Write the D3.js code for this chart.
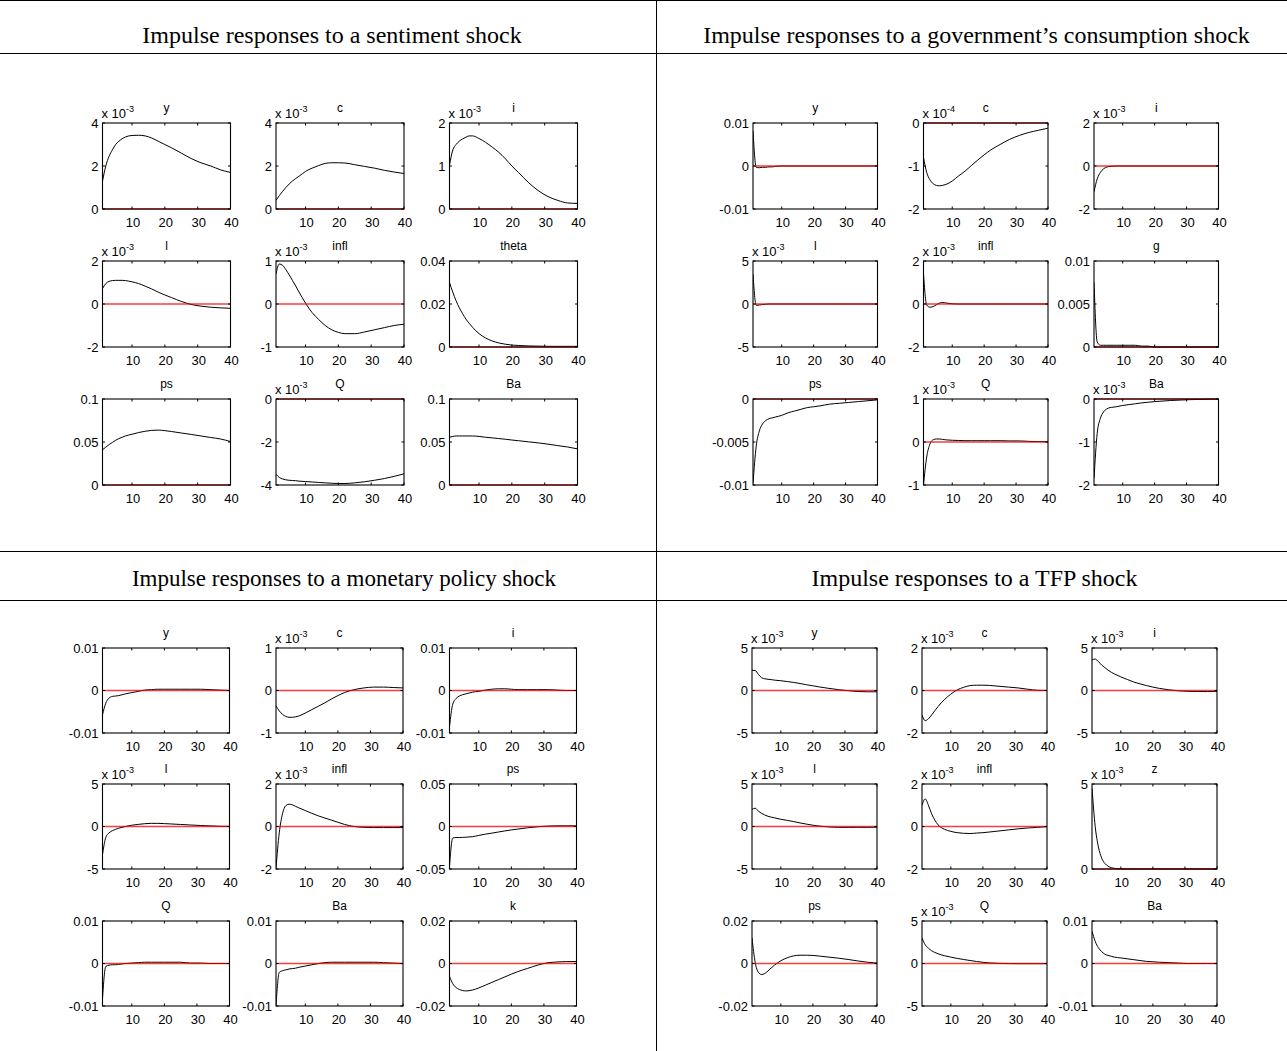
<!DOCTYPE html>
<html>
<head>
<meta charset="utf-8">
<script src="https://cdn.jsdelivr.net/npm/d3@7"></script>
<style>
body { margin: 0; background: #fff; }
svg { display: block; }
</style>
</head>
<body>
<div id="chart"></div>
<script>
var horizon = [1, 2, 3, 4, 5, 6, 7, 8, 10, 12, 14, 16, 18, 20, 22, 25, 28, 31, 34, 37, 40];
var xTicks = [10, 20, 30, 40];

var panelTitles = [
	"Impulse responses to a sentiment shock",
	"Impulse responses to a government\u2019s consumption shock",
	"Impulse responses to a monetary policy shock",
	"Impulse responses to a TFP shock"
];

// --- sentiment shock ---
var sentimentVars = ["y", "c", "i", "l", "infl", "theta", "ps", "Q", "Ba"];
var sentimentExp = [-3, -3, -3, -3, -3, 0, 0, -3, 0];
var sentimentYTicks = [[0, 2, 4], [0, 2, 4], [0, 1, 2], [-2, 0, 2], [-1, 0, 1], [0, 0.02, 0.04], [0, 0.05, 0.1], [-4, -2, 0], [0, 0.05, 0.1]];
var sentimentIRF = [
	[1.3, 2.0, 2.45, 2.75, 3.0, 3.15, 3.27, 3.35, 3.42, 3.43, 3.4, 3.3, 3.15, 3.0, 2.85, 2.6, 2.35, 2.15, 2.0, 1.82, 1.7],
	[0.4, 0.62, 0.82, 1.0, 1.16, 1.3, 1.42, 1.52, 1.75, 1.9, 2.02, 2.12, 2.15, 2.15, 2.14, 2.06, 1.98, 1.9, 1.8, 1.72, 1.65],
	[1.02, 1.37, 1.5, 1.58, 1.63, 1.67, 1.7, 1.7, 1.64, 1.55, 1.44, 1.32, 1.17, 1.0, 0.85, 0.62, 0.43, 0.29, 0.2, 0.14, 0.13],
	[0.72, 0.95, 1.05, 1.09, 1.1, 1.1, 1.1, 1.09, 1.03, 0.95, 0.83, 0.7, 0.55, 0.42, 0.3, 0.12, -0.02, -0.1, -0.15, -0.18, -0.2],
	[0.7, 0.93, 0.9, 0.8, 0.68, 0.55, 0.42, 0.28, 0.02, -0.2, -0.36, -0.5, -0.6, -0.66, -0.69, -0.69, -0.65, -0.6, -0.55, -0.5, -0.47],
	[0.030, 0.0255, 0.0215, 0.0182, 0.0155, 0.013, 0.011, 0.0092, 0.0062, 0.0042, 0.0028, 0.0019, 0.0013, 0.0009, 0.0007, 0.0005, 0.0004, 0.0003, 0.0003, 0.0003, 0.0003],
	[0.041, 0.044, 0.047, 0.0495, 0.052, 0.054, 0.0555, 0.057, 0.059, 0.061, 0.0625, 0.0635, 0.0638, 0.0632, 0.0622, 0.0605, 0.0588, 0.057, 0.0552, 0.0535, 0.0505],
	[-3.5, -3.65, -3.72, -3.76, -3.78, -3.79, -3.8, -3.82, -3.84, -3.86, -3.88, -3.9, -3.92, -3.93, -3.93, -3.9, -3.85, -3.78, -3.7, -3.6, -3.48],
	[0.0555, 0.0565, 0.057, 0.057, 0.057, 0.057, 0.057, 0.057, 0.0565, 0.0555, 0.0548, 0.054, 0.0532, 0.0523, 0.0515, 0.0502, 0.049, 0.0475, 0.0458, 0.0442, 0.042]
];

// --- government consumption shock ---
var govVars = ["y", "c", "i", "l", "infl", "g", "ps", "Q", "Ba"];
var govExp = [0, -4, -3, -3, -3, 0, 0, -3, -3];
var govYTicks = [[-0.01, 0, 0.01], [-2, -1, 0], [-2, 0, 2], [-5, 0, 5], [-2, 0, 2], [0, 0.005, 0.01], [-0.01, -0.005, 0], [-1, 0, 1], [-2, -1, 0]];
var govIRF = [
	[0.0082, -0.0003, -0.0004, -0.0003, -0.0003, -0.0002, -0.0002, -0.0001, 0, 0, 0, 0, 0, 0, 0, 0, 0, 0, 0, 0, 0],
	[-0.8, -1.15, -1.32, -1.41, -1.45, -1.46, -1.45, -1.43, -1.35, -1.23, -1.12, -0.99, -0.86, -0.74, -0.63, -0.5, -0.38, -0.29, -0.22, -0.17, -0.12],
	[-1.2, -0.6, -0.3, -0.13, -0.05, -0.02, -0.01, 0, 0, 0, 0, 0, 0, 0, 0, 0, 0, 0, 0, 0, 0],
	[3.5, -0.15, -0.12, -0.06, -0.03, 0, 0, 0, 0, 0, 0, 0, 0, 0, 0, 0, 0, 0, 0, 0, 0],
	[1.4, -0.05, -0.15, -0.12, -0.04, 0.04, 0.07, 0.05, 0.01, 0, 0, 0, 0, 0, 0, 0, 0, 0, 0, 0, 0],
	[0.0075, 0.0006, 0.0002, 0.0002, 0.0002, 0.0002, 0.0002, 0.0002, 0.0002, 0.0002, 0.0002, 0.0001, 0.0001, 0, 0, 0, 0, 0, 0, 0, 0],
	[-0.0098, -0.0055, -0.0037, -0.0029, -0.0025, -0.0023, -0.0022, -0.0021, -0.0019, -0.0016, -0.0014, -0.0012, -0.001, -0.0009, -0.0008, -0.0006, -0.0005, -0.0004, -0.0003, -0.0002, -0.0001],
	[-1.0, -0.35, -0.05, 0.05, 0.07, 0.07, 0.06, 0.05, 0.04, 0.035, 0.03, 0.03, 0.03, 0.03, 0.03, 0.03, 0.025, 0.025, 0.015, 0.01, 0.005],
	[-1.85, -0.8, -0.45, -0.3, -0.23, -0.2, -0.19, -0.18, -0.15, -0.13, -0.11, -0.09, -0.075, -0.06, -0.05, -0.035, -0.025, -0.015, -0.01, -0.005, 0]
];

// --- monetary policy shock ---
var monVars = ["y", "c", "i", "l", "infl", "ps", "Q", "Ba", "k"];
var monExp = [0, -3, 0, -3, -3, 0, 0, 0, 0];
var monYTicks = [[-0.01, 0, 0.01], [-1, 0, 1], [-0.01, 0, 0.01], [-5, 0, 5], [-2, 0, 2], [-0.05, 0, 0.05], [-0.01, 0, 0.01], [-0.01, 0, 0.01], [-0.02, 0, 0.02]];
var monIRF = [
	[-0.0057, -0.003, -0.0018, -0.0014, -0.0013, -0.0012, -0.001, -0.0008, -0.0005, -0.0002, 0.0001, 0.0002, 0.0003, 0.0003, 0.0003, 0.0003, 0.0003, 0.0003, 0.0002, 0.0001, 0],
	[-0.36, -0.48, -0.56, -0.61, -0.63, -0.63, -0.62, -0.6, -0.53, -0.45, -0.37, -0.29, -0.2, -0.12, -0.05, 0.02, 0.06, 0.08, 0.08, 0.07, 0.06],
	[-0.0085, -0.0032, -0.0019, -0.0013, -0.001, -0.0008, -0.0006, -0.0004, -0.0002, 0.0001, 0.0003, 0.0004, 0.0004, 0.0003, 0.0002, 0.0002, 0.0002, 0.0002, 0.0001, 0, 0],
	[-3.3, -1.3, -0.75, -0.5, -0.33, -0.2, -0.1, 0, 0.15, 0.25, 0.33, 0.37, 0.37, 0.34, 0.3, 0.24, 0.18, 0.12, 0.07, 0.03, 0.01],
	[-1.95, -0.3, 0.6, 0.98, 1.05, 1.02, 0.95, 0.88, 0.75, 0.62, 0.5, 0.4, 0.3, 0.2, 0.1, 0, -0.04, -0.05, -0.05, -0.05, -0.05],
	[-0.047, -0.0135, -0.013, -0.013, -0.0128, -0.0126, -0.0123, -0.012, -0.0105, -0.009, -0.0078, -0.0065, -0.0052, -0.004, -0.003, -0.0015, -0.0003, 0.0005, 0.0008, 0.0008, 0.0008],
	[-0.0082, -0.0007, -0.0004, -0.0003, -0.0003, -0.0002, -0.0001, 0, 0.0001, 0.0002, 0.0003, 0.0003, 0.0003, 0.0003, 0.0003, 0.0003, 0.0001, 0.0001, 0, 0, 0],
	[-0.0099, -0.0021, -0.0017, -0.0015, -0.0013, -0.0012, -0.0011, -0.0009, -0.0006, -0.0003, 0, 0.0002, 0.0003, 0.0003, 0.0003, 0.0003, 0.0003, 0.0003, 0.0002, 0.0001, 0],
	[-0.006, -0.0095, -0.0113, -0.0122, -0.0127, -0.0129, -0.0128, -0.0125, -0.0115, -0.0102, -0.0089, -0.0076, -0.0063, -0.005, -0.0038, -0.0023, -0.0008, 0.0003, 0.0007, 0.0009, 0.0009]
];

// --- TFP shock ---
var tfpVars = ["y", "c", "i", "l", "infl", "z", "ps", "Q", "Ba"];
var tfpExp = [-3, -3, -3, -3, -3, -3, 0, -3, 0];
var tfpYTicks = [[-5, 0, 5], [-2, 0, 2], [-5, 0, 5], [-5, 0, 5], [-2, 0, 2], [0, 5], [-0.02, 0, 0.02], [-5, 0, 5], [-0.01, 0, 0.01]];
var tfpIRF = [
	[2.38, 2.35, 1.9, 1.5, 1.38, 1.32, 1.28, 1.22, 1.15, 1.05, 0.95, 0.82, 0.68, 0.55, 0.42, 0.25, 0.1, -0.02, -0.12, -0.15, -0.15],
	[-1.15, -1.42, -1.33, -1.15, -0.95, -0.76, -0.58, -0.43, -0.17, 0.03, 0.15, 0.23, 0.25, 0.25, 0.24, 0.2, 0.16, 0.12, 0.06, 0.01, 0],
	[3.6, 3.7, 3.4, 3.0, 2.7, 2.4, 2.15, 1.95, 1.6, 1.3, 1.0, 0.78, 0.58, 0.4, 0.25, 0.08, -0.04, -0.1, -0.12, -0.12, -0.1],
	[2.0, 2.15, 1.8, 1.55, 1.35, 1.2, 1.1, 1.02, 0.85, 0.72, 0.58, 0.42, 0.28, 0.15, 0.05, -0.05, -0.1, -0.1, -0.1, -0.1, -0.08],
	[1.0, 1.3, 1.0, 0.6, 0.3, 0.08, -0.05, -0.13, -0.23, -0.29, -0.32, -0.33, -0.31, -0.29, -0.26, -0.21, -0.16, -0.11, -0.07, -0.04, -0.01],
	[4.75, 2.5, 1.3, 0.65, 0.33, 0.17, 0.08, 0.04, 0.01, 0, 0, 0, 0, 0, 0, 0, 0, 0, 0, 0, 0],
	[0.012, 0.0005, -0.0042, -0.0052, -0.0047, -0.0035, -0.0021, -0.0008, 0.0013, 0.0027, 0.0036, 0.0039, 0.0039, 0.0038, 0.0035, 0.003, 0.0025, 0.0019, 0.0012, 0.0006, 0.0002],
	[3.0, 2.2, 1.8, 1.5, 1.3, 1.15, 1.02, 0.92, 0.75, 0.6, 0.47, 0.35, 0.24, 0.14, 0.07, 0.02, -0.01, -0.02, -0.02, -0.02, -0.02],
	[0.0076, 0.0052, 0.0037, 0.0028, 0.0022, 0.0019, 0.0017, 0.0015, 0.0013, 0.0011, 0.0009, 0.0007, 0.0005, 0.0004, 0.0003, 0.0002, 0.0001, 0, 0, 0, 0]
];

var W = 1287, H = 1051;

// where each panel and its 3x3 grid of small axes sit
var layouts = [
	{ cx: 332, ty: 43, fs: 24, lefts: [102.5, 276, 449.5], w: 128, tops: [123, 261, 399], h: 86 },
	{ cx: 976.5, ty: 43, fs: 24, lefts: [753, 923.5, 1094], w: 124.5, tops: [123, 261, 399], h: 86 },
	{ cx: 344, ty: 586, fs: 23, lefts: [102.5, 276, 449.5], w: 127, tops: [648, 784, 921], h: 85 },
	{ cx: 974.5, ty: 586, fs: 24, lefts: [752, 922, 1092], w: 125, tops: [648, 784, 921], h: 85 }
];

var panels = [
	{ vars: sentimentVars, exp: sentimentExp, ticks: sentimentYTicks, irf: sentimentIRF },
	{ vars: govVars, exp: govExp, ticks: govYTicks, irf: govIRF },
	{ vars: monVars, exp: monExp, ticks: monYTicks, irf: monIRF },
	{ vars: tfpVars, exp: tfpExp, ticks: tfpYTicks, irf: tfpIRF }
];

var svg = d3.select('#chart').append('svg')
	.attr('width', W)
	.attr('height', H)
	.style('font-family', 'Arial, "Liberation Sans", sans-serif');

svg.append('rect').attr('width', W).attr('height', H).attr('fill', '#fff');

// table frame
var frame = svg.append('g').attr('stroke', '#000').attr('stroke-width', 1);
[0.5, 53.5, 551.5, 600.5].forEach(function (y) {
	frame.append('line').attr('x1', 0).attr('x2', W).attr('y1', y).attr('y2', y);
});
frame.append('line').attr('x1', 656.5).attr('x2', 656.5).attr('y1', 0).attr('y2', H);

var clipId = 0;

var drawAxes = function (g, x0, y0, w, h, name, expo, yTicks, values) {
	var x = d3.scaleLinear().domain([1, 40]).range([x0, x0 + w]);
	var y = d3.scaleLinear().domain([yTicks[0], yTicks[yTicks.length - 1]]).range([y0 + h, y0]);

	var id = 'clip' + (clipId++);
	g.append('clipPath').attr('id', id)
		.append('rect').attr('x', x0).attr('y', y0 - 1).attr('width', w).attr('height', h + 2);

	var pts = horizon.map(function (t, k) { return [t, values[k]]; });
	var line = d3.line()
		.x(function (d) { return x(d[0]); })
		.y(function (d) { return y(d[1]); })
		.curve(d3.curveMonotoneX);

	g.append('path').datum(pts)
		.attr('clip-path', 'url(#' + id + ')')
		.attr('d', line)
		.attr('fill', 'none')
		.attr('stroke', '#000')
		.attr('stroke-width', 1);

	// zero line drawn on top, as in the original
	g.append('line')
		.attr('x1', x(1)).attr('x2', x(40))
		.attr('y1', y(0)).attr('y2', y(0))
		.attr('stroke', '#e00')
		.attr('stroke-opacity', 0.75)
		.attr('stroke-width', 1.3);

	g.append('rect')
		.attr('x', x0).attr('y', y0).attr('width', w).attr('height', h)
		.attr('fill', 'none').attr('stroke', '#000').attr('stroke-width', 1.1);

	// inward ticks on all four sides
	var tk = g.append('g').attr('stroke', '#000').attr('stroke-width', 1);
	xTicks.forEach(function (t) {
		tk.append('line').attr('x1', x(t)).attr('x2', x(t)).attr('y1', y0).attr('y2', y0 + 2.5);
		tk.append('line').attr('x1', x(t)).attr('x2', x(t)).attr('y1', y0 + h).attr('y2', y0 + h - 2.5);
	});
	yTicks.forEach(function (v) {
		tk.append('line').attr('x1', x0).attr('x2', x0 + 2.5).attr('y1', y(v)).attr('y2', y(v));
		tk.append('line').attr('x1', x0 + w).attr('x2', x0 + w - 2.5).attr('y1', y(v)).attr('y2', y(v));
	});

	g.selectAll(null).data(xTicks).enter().append('text')
		.attr('x', function (d) { return x(d) + 1; })
		.attr('y', y0 + h + 18)
		.attr('text-anchor', 'middle')
		.attr('font-size', 13)
		.text(function (d) { return d; });

	g.selectAll(null).data(yTicks).enter().append('text')
		.attr('x', x0 - 4)
		.attr('y', function (d) { return y(d) + 4.5; })
		.attr('text-anchor', 'end')
		.attr('font-size', 13)
		.text(function (d) { return String(d); });

	g.append('text')
		.attr('x', x0 + w / 2)
		.attr('y', y0 - 11)
		.attr('text-anchor', 'middle')
		.attr('font-size', 12)
		.text(name);

	if (expo !== 0) {
		var ex = g.append('text')
			.attr('x', x0 - 1)
			.attr('y', y0 - 5)
			.attr('font-size', 13)
			.text('x 10');
		ex.append('tspan')
			.attr('dy', -6)
			.attr('font-size', 9)
			.text(String(expo));
	}
};

panels.forEach(function (p, pi) {
	var L = layouts[pi];
	var g = svg.append('g');

	g.append('text')
		.attr('x', L.cx)
		.attr('y', L.ty)
		.attr('text-anchor', 'middle')
		.attr('font-family', '"Liberation Serif", "Times New Roman", serif')
		.attr('font-size', L.fs)
		.text(panelTitles[pi]);

	p.vars.forEach(function (name, k) {
		var r = Math.floor(k / 3), c = k % 3;
		drawAxes(g, L.lefts[c], L.tops[r], L.w, L.h, name, p.exp[k], p.ticks[k], p.irf[k]);
	});
});
</script>
</body>
</html>
